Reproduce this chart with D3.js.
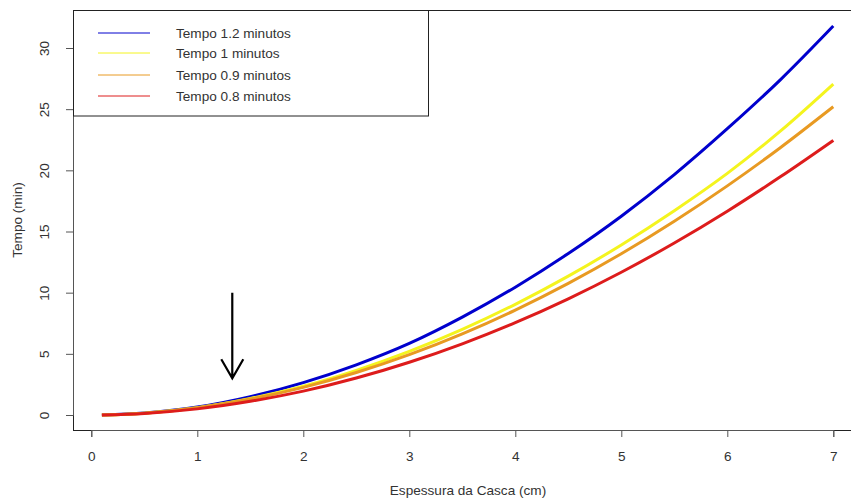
<!DOCTYPE html>
<html>
<head>
<meta charset="utf-8">
<script src="https://cdn.jsdelivr.net/npm/d3@7"></script>
<style>
  html, body { margin: 0; padding: 0; background: #fff; }
  svg { display: block; font-family: "Liberation Sans", Arial, sans-serif; }
</style>
</head>
<body>
<svg id="chart" width="851" height="499"></svg>
<script>
// ---- data ----
const espessura = [0.1, 0.5, 1.0, 1.5, 2.0, 2.5, 3.0, 3.5, 4.0, 4.5, 5.0, 5.5, 6.0, 6.5, 7.0];
const tempo12 = [0.0, 0.17, 0.65, 1.5, 2.65, 4.1, 5.85, 8.0, 10.45, 13.2, 16.25, 19.65, 23.4, 27.4, 31.8];
const tempo10 = [0.0, 0.15, 0.6, 1.35, 2.35, 3.65, 5.2, 7.0, 9.05, 11.35, 13.9, 16.7, 19.75, 23.2, 27.05];
const tempo09 = [0.0, 0.15, 0.59, 1.3, 2.26, 3.47, 4.93, 6.63, 8.58, 10.76, 13.18, 15.84, 18.73, 21.85, 25.2];
const tempo08 = [0.0, 0.13, 0.5, 1.12, 1.95, 3.02, 4.31, 5.82, 7.55, 9.5, 11.67, 14.06, 16.66, 19.47, 22.45];
const seriesNames = ["Tempo 1.2 minutos", "Tempo 1 minutos", "Tempo 0.9 minutos", "Tempo 0.8 minutos"];
const seriesColors = ["#0000cd", "#f4f41e", "#e89a22", "#dd1c1c"];
const xTicks = [0, 1, 2, 3, 4, 5, 6, 7];
const yTicks = [0, 5, 10, 15, 20, 25, 30];
const arrowX = 1.33, arrowYFrom = 10, arrowYTo = 3;

const allSeries = [tempo12, tempo10, tempo09, tempo08];

// ---- layout ----
const svg = d3.select("#chart");
const x = d3.scaleLinear().domain([0, 7]).range([91.3, 833.3]);
const y = d3.scaleLinear().domain([0, 30]).range([415, 48]);
const frame = { left: 73, top: 10, bottom: 430, right: 851 };
const axisCol = "#555", textCol = "#333";
const fs = "13.6px";

// frame (box, right side outside window)
svg.append("path")
  .attr("d", `M${frame.right},${frame.top}H${frame.left}V${frame.bottom}H${frame.right}`)
  .attr("fill", "none").attr("stroke", "#222").attr("stroke-width", 1)
  .attr("shape-rendering", "crispEdges");

// x axis
const xAxis = svg.append("g").attr("transform", `translate(0,${frame.bottom})`)
  .call(d3.axisBottom(x).tickValues(xTicks).tickSize(7).tickPadding(14).tickFormat(d3.format("d")));
xAxis.select(".domain").attr("stroke", axisCol);
xAxis.selectAll(".tick line").attr("stroke", axisCol);
xAxis.selectAll(".tick text").attr("fill", textCol).style("font-size", fs)
  .style("font-family", "'Liberation Sans', Arial, sans-serif");

// y axis
const yAxis = svg.append("g").attr("transform", `translate(${frame.left},0)`)
  .call(d3.axisLeft(y).tickValues(yTicks).tickSize(7).tickFormat(d3.format("d")));
yAxis.select(".domain").attr("stroke", axisCol);
yAxis.selectAll(".tick line").attr("stroke", axisCol);
yAxis.selectAll(".tick text")
  .attr("x", null).attr("dy", null)
  .attr("fill", textCol).style("font-size", fs)
  .style("font-family", "'Liberation Sans', Arial, sans-serif")
  .attr("text-anchor", "middle")
  .attr("dominant-baseline", "central")
  .attr("transform", "translate(-29,0) rotate(-90)");

// axis titles
svg.append("text").attr("x", 468).attr("y", 495)
  .attr("text-anchor", "middle").attr("fill", textCol).style("font-size", fs)
  .text("Espessura da Casca (cm)");
svg.append("text").attr("transform", "translate(22,220) rotate(-90)")
  .attr("text-anchor", "middle").attr("fill", textCol).style("font-size", fs)
  .text("Tempo (min)");

// lines
const line = d3.line()
  .x((d, i) => x(espessura[i]))
  .y(d => y(d))
  .curve(d3.curveMonotoneX);
allSeries.forEach((s, k) => {
  svg.append("path").datum(s)
    .attr("d", line)
    .attr("fill", "none")
    .attr("stroke", seriesColors[k])
    .attr("stroke-width", 3)
    .attr("stroke-linejoin", "round");
});

// arrow
const ax = x(arrowX), ay0 = y(arrowYFrom), ay1 = y(arrowYTo);
const hl = 22, ang = Math.PI / 6;
svg.append("path")
  .attr("d", `M${ax},${ay0}V${ay1}M${ax - hl * Math.sin(ang)},${ay1 - hl * Math.cos(ang)}L${ax},${ay1}L${ax + hl * Math.sin(ang)},${ay1 - hl * Math.cos(ang)}`)
  .attr("fill", "none").attr("stroke", "#000").attr("stroke-width", 2.2);

// legend
const lg = svg.append("g");
lg.append("rect").attr("x", 73.5).attr("y", 10.5).attr("width", 355).attr("height", 105.5)
  .attr("fill", "#fff").attr("stroke", "#222").attr("stroke-width", 1);
const rowY = [33, 53, 75, 96];
seriesNames.forEach((name, k) => {
  lg.append("line").attr("x1", 98).attr("x2", 150).attr("y1", rowY[k]).attr("y2", rowY[k])
    .attr("stroke", seriesColors[k]).attr("stroke-width", 1);
  lg.append("text").attr("x", 176).attr("y", rowY[k]).attr("dy", "0.35em")
    .attr("fill", textCol).style("font-size", fs).text(name);
});
</script>
</body>
</html>
